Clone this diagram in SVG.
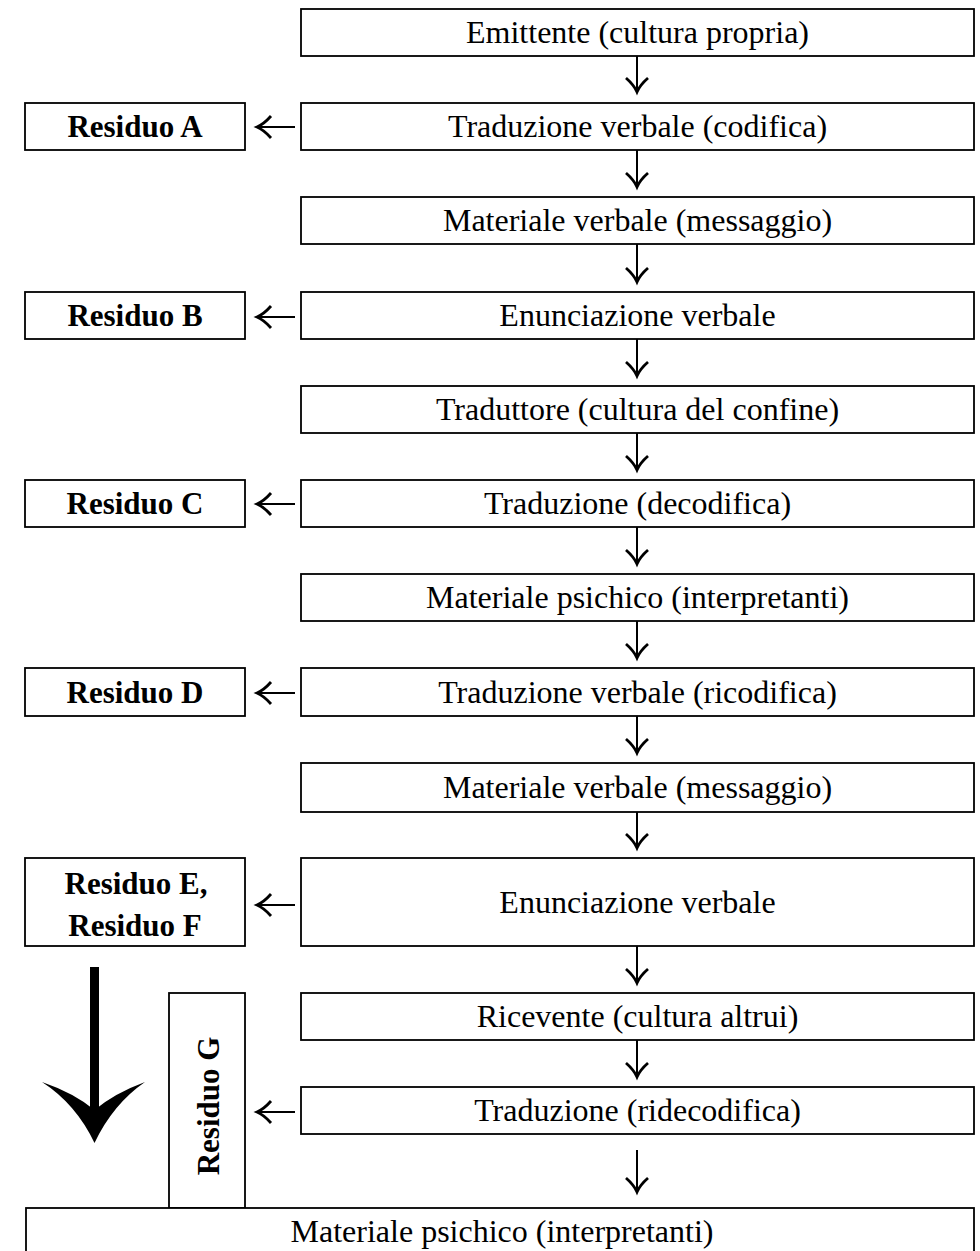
<svg xmlns="http://www.w3.org/2000/svg" width="980" height="1251" viewBox="0 0 980 1251">
<style>
.box{fill:#fff;stroke:#000;stroke-width:1.8}
.t{font-family:"Liberation Serif","Times New Roman",serif;font-size:32px;fill:#000;text-anchor:middle}
.b{font-family:"Liberation Serif","Times New Roman",serif;font-size:31px;font-weight:bold;fill:#000;text-anchor:middle}
.c{stroke:#000;stroke-width:2;fill:none}
</style>
<defs>
<marker id="ah" markerUnits="userSpaceOnUse" viewBox="-16 -13 18 26" refX="0" refY="0" markerWidth="18" markerHeight="26" orient="auto" overflow="visible">
<path d="M-14,-11 Q-7,-3 0,0 Q-7,3 -14,11" fill="none" stroke="#000" stroke-width="2.8"/>
</marker>
</defs>
<rect width="980" height="1251" fill="#fff"/>
<g id="n1"><rect class="box" x="301" y="9" width="673" height="47"/><text class="t" x="637.5" y="43">Emittente (cultura propria)</text></g>
<g id="n2"><rect class="box" x="301" y="103" width="673" height="47"/><text class="t" x="637.5" y="137">Traduzione verbale (codifica)</text></g>
<g id="rA"><rect class="box" x="25" y="103" width="220" height="47"/><text class="b" x="135" y="137">Residuo A</text></g>
<g id="n3"><rect class="box" x="301" y="197" width="673" height="47"/><text class="t" x="637.5" y="231">Materiale verbale (messaggio)</text></g>
<g id="n4"><rect class="box" x="301" y="292" width="673" height="47"/><text class="t" x="637.5" y="326">Enunciazione verbale</text></g>
<g id="rB"><rect class="box" x="25" y="292" width="220" height="47"/><text class="b" x="135" y="326">Residuo B</text></g>
<g id="n5"><rect class="box" x="301" y="386" width="673" height="47"/><text class="t" x="637.5" y="420">Traduttore (cultura del confine)</text></g>
<g id="n6"><rect class="box" x="301" y="480" width="673" height="47"/><text class="t" x="637.5" y="514">Traduzione (decodifica)</text></g>
<g id="rC"><rect class="box" x="25" y="480" width="220" height="47"/><text class="b" x="135" y="514">Residuo C</text></g>
<g id="n7"><rect class="box" x="301" y="574" width="673" height="47"/><text class="t" x="637.5" y="608">Materiale psichico (interpretanti)</text></g>
<g id="n8"><rect class="box" x="301" y="668" width="673" height="48"/><text class="t" x="637.5" y="703">Traduzione verbale (ricodifica)</text></g>
<g id="rD"><rect class="box" x="25" y="668" width="220" height="48"/><text class="b" x="135" y="703">Residuo D</text></g>
<g id="n9"><rect class="box" x="301" y="763" width="673" height="49"/><text class="t" x="637.5" y="798">Materiale verbale (messaggio)</text></g>
<g id="n10"><rect class="box" x="301" y="858" width="673" height="88"/><text class="t" x="637.5" y="913">Enunciazione verbale</text></g>
<g id="rEF"><rect class="box" x="25" y="858" width="220" height="88"/><text class="b" x="136" y="894">Residuo E,</text><text class="b" x="135" y="936">Residuo F</text></g>
<g id="n11"><rect class="box" x="301" y="993" width="673" height="47"/><text class="t" x="637.5" y="1027">Ricevente (cultura altrui)</text></g>
<g id="n12"><rect class="box" x="301" y="1087" width="673" height="47"/><text class="t" x="637.5" y="1121">Traduzione (ridecodifica)</text></g>
<g id="rG"><rect class="box" x="169" y="993" width="76" height="215"/><text class="b" transform="translate(219,1106) rotate(-90)" x="0" y="0">Residuo G</text></g>
<g id="n13"><rect class="box" x="26" y="1208" width="948" height="50"/><text class="t" x="502" y="1242">Materiale psichico (interpretanti)</text></g>
<g id="bigArrow"><rect x="90" y="967" width="9" height="150"/><path d="M94.5,1143 Q76,1104 42,1082 Q74,1093 94.5,1110 Q115,1093 145,1082 Q113,1104 94.5,1143 Z"/></g>
<g id="connectors" class="c">
<line x1="637" y1="56" x2="637" y2="92" marker-end="url(#ah)"/>
<line x1="637" y1="150" x2="637" y2="187" marker-end="url(#ah)"/>
<line x1="637" y1="244" x2="637" y2="282" marker-end="url(#ah)"/>
<line x1="637" y1="339" x2="637" y2="376" marker-end="url(#ah)"/>
<line x1="637" y1="433" x2="637" y2="470" marker-end="url(#ah)"/>
<line x1="637" y1="527" x2="637" y2="564" marker-end="url(#ah)"/>
<line x1="637" y1="621" x2="637" y2="658" marker-end="url(#ah)"/>
<line x1="637" y1="716" x2="637" y2="753" marker-end="url(#ah)"/>
<line x1="637" y1="812" x2="637" y2="848" marker-end="url(#ah)"/>
<line x1="637" y1="946" x2="637" y2="983" marker-end="url(#ah)"/>
<line x1="637" y1="1040" x2="637" y2="1077" marker-end="url(#ah)"/>
<line x1="637" y1="1150" x2="637" y2="1192" marker-end="url(#ah)"/>
<line x1="295" y1="127" x2="257" y2="127" marker-end="url(#ah)"/>
<line x1="295" y1="317" x2="257" y2="317" marker-end="url(#ah)"/>
<line x1="295" y1="504" x2="257" y2="504" marker-end="url(#ah)"/>
<line x1="295" y1="693" x2="257" y2="693" marker-end="url(#ah)"/>
<line x1="295" y1="905" x2="257" y2="905" marker-end="url(#ah)"/>
<line x1="295" y1="1112" x2="257" y2="1112" marker-end="url(#ah)"/>
</g>
</svg>
